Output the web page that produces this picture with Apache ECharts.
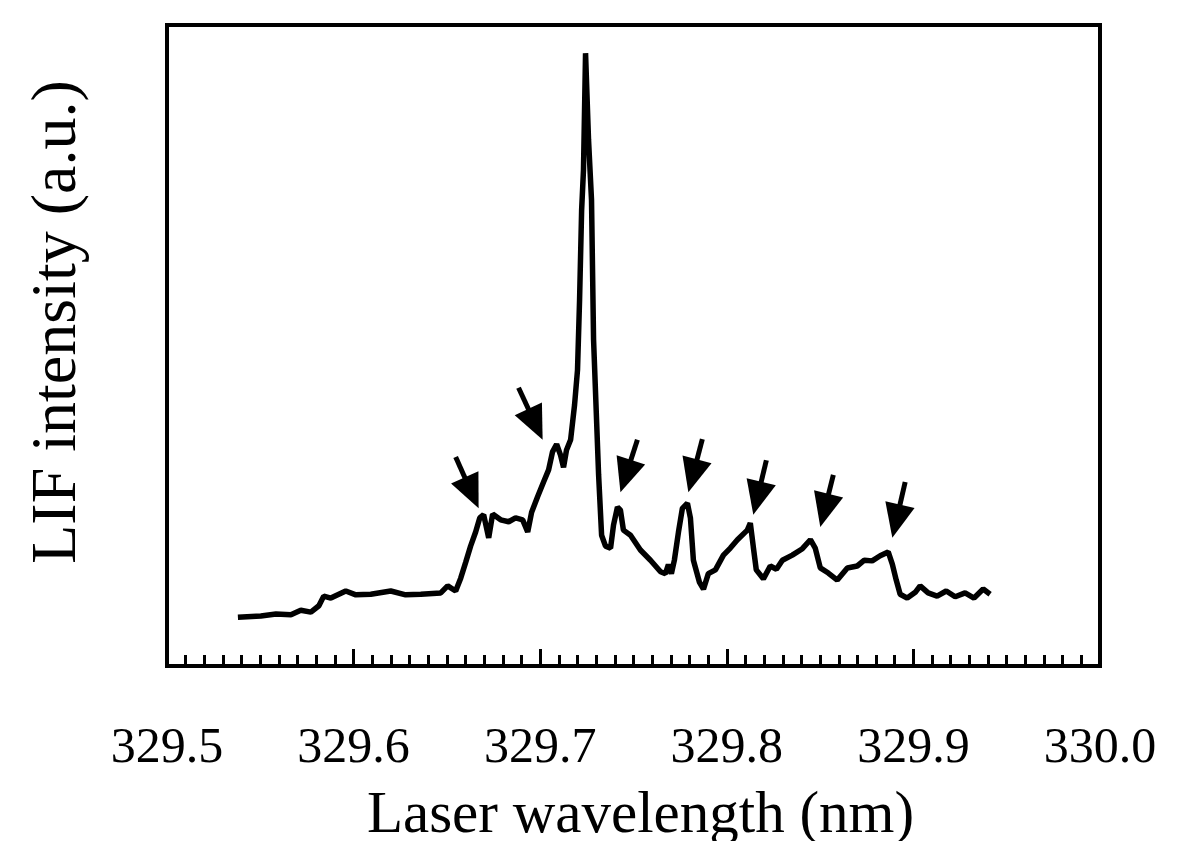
<!DOCTYPE html>
<html lang="en">

<head>
  <meta charset="UTF-8">
  <title>LIF spectrum</title>
  <script src="https://cdn.jsdelivr.net/npm/echarts@6/dist/echarts.min.js"></script>
  <style>
    html, body { margin: 0; padding: 0; background: #fff; }
    #main { width: 1179px; height: 841px; }
  </style>
</head>

<body>
  <div id="main"></div>
  <script>
    // wavelength (nm)
    var wavelength = [
      329.5380, 329.5503, 329.5584, 329.5664, 329.5717, 329.5771, 329.5814, 329.5840, 329.5878, 329.5958,
      329.6012, 329.6092, 329.6199, 329.6279, 329.6360, 329.6467, 329.6504, 329.6547, 329.6574, 329.6601,
      329.6627, 329.6654, 329.6676, 329.6697, 329.6724, 329.6745, 329.6788, 329.6831, 329.6868, 329.6906,
      329.6933, 329.6954, 329.6986, 329.7018, 329.7045, 329.7066, 329.7088, 329.7109, 329.7125, 329.7141,
      329.7163, 329.7184, 329.7200, 329.7211, 329.7222, 329.7232, 329.7243, 329.7259, 329.7275, 329.7286,
      329.7302, 329.7313, 329.7329, 329.7350, 329.7377, 329.7393, 329.7414, 329.7430, 329.7446, 329.7484,
      329.7537, 329.7591, 329.7645, 329.7671, 329.7687, 329.7703, 329.7719, 329.7741, 329.7762, 329.7789,
      329.7805, 329.7821, 329.7853, 329.7875, 329.7901, 329.7939, 329.7982, 329.8019, 329.8057, 329.8110,
      329.8126, 329.8142, 329.8158, 329.8196, 329.8233, 329.8266, 329.8298, 329.8351, 329.8405, 329.8448,
      329.8474, 329.8501, 329.8544, 329.8592, 329.8646, 329.8699, 329.8737, 329.8779, 329.8822, 329.8865,
      329.8887, 329.8908, 329.8929, 329.8967, 329.9010, 329.9036, 329.9079, 329.9127, 329.9176, 329.9224,
      329.9277, 329.9325, 329.9374, 329.9411
    ];
    // LIF intensity (a.u.)
    var intensity = [
      7.6, 7.8, 8.1, 8.0, 8.7, 8.4, 9.4, 10.9, 10.6, 11.7,
      11.1, 11.2, 11.7, 11.1, 11.2, 11.4, 12.5, 11.7, 13.7, 16.2,
      18.7, 20.9, 23.1, 23.6, 20.0, 23.7, 22.8, 22.5, 23.1, 22.8,
      20.9, 24.0, 26.4, 28.7, 30.6, 33.4, 34.6, 32.9, 31.0, 33.7,
      35.3, 40.7, 46.2, 57.1, 71.1, 77.4, 95.6, 82.1, 72.7, 50.9,
      38.4, 29.8, 20.4, 18.7, 18.4, 22.0, 24.8, 24.3, 21.2, 20.4,
      18.1, 16.5, 14.7, 14.4, 15.8, 14.4, 16.5, 20.9, 24.6, 25.4,
      23.1, 16.5, 13.1, 12.0, 14.4, 15.0, 17.3, 18.4, 19.7, 21.2,
      22.3, 18.6, 15.0, 13.6, 15.6, 15.1, 16.5, 17.3, 18.3, 19.7,
      18.4, 15.3, 14.5, 13.4, 15.3, 15.6, 16.5, 16.4, 17.2, 17.8,
      15.9, 13.4, 11.2, 10.6, 11.5, 12.5, 11.4, 10.9, 11.7, 10.8,
      11.4, 10.6, 12.0, 11.2
    ];
    // arrows: tail and tip (wavelength, intensity)
    var arrowTail = [
      [329.6547, 32.6], [329.6884, 43.4], [329.7521, 35.3], [329.7869, 35.4],
      [329.8212, 32.1], [329.8571, 29.8], [329.8956, 28.7]
    ];
    var arrowTip = [
      [329.6670, 24.6], [329.7013, 35.3], [329.7430, 27.1], [329.7794, 27.1],
      [329.8142, 23.6], [329.8501, 21.7], [329.8887, 20.0]
    ];
    var xTicks = [329.5, 329.6, 329.7, 329.8, 329.9, 330.0];

    var points = [];
    for (var i = 0; i < wavelength.length; i++) {
      points.push([wavelength[i], intensity[i]]);
    }
    var arrows = [];
    for (var j = 0; j < arrowTail.length; j++) {
      arrows.push([arrowTail[j][0], arrowTail[j][1], arrowTip[j][0], arrowTip[j][1]]);
    }

    // arrow = shaft + filled triangle head, drawn through the axes
    function renderArrow(params, api) {
      var p0 = api.coord([api.value(0), api.value(1)]);
      var p1 = api.coord([api.value(2), api.value(3)]);
      var dx = p1[0] - p0[0], dy = p1[1] - p0[1];
      var len = Math.sqrt(dx * dx + dy * dy);
      var ux = dx / len, uy = dy / len;
      var headLen = 34, headHalf = 15;
      var bx = p1[0] - ux * headLen, by = p1[1] - uy * headLen;
      return {
        type: 'group',
        children: [{
          type: 'line',
          shape: { x1: p0[0], y1: p0[1], x2: bx + ux * 4, y2: by + uy * 4 },
          style: { stroke: '#000', lineWidth: 5 }
        }, {
          type: 'polygon',
          shape: {
            points: [
              [p1[0], p1[1]],
              [bx - uy * headHalf, by + ux * headHalf],
              [bx + uy * headHalf, by - ux * headHalf]
            ]
          },
          style: { fill: '#000' }
        }]
      };
    }

    var font = '"Liberation Serif", "DejaVu Serif", serif';
    var chart = echarts.init(document.getElementById('main'));
    var option = {
      animation: false,
      grid: {
        left: 167,
        right: 79,
        top: 25,
        bottom: 175,
        outerBoundsMode: 'none',
        containLabel: false,
        show: true,
        borderColor: '#000',
        borderWidth: 4
      },
      xAxis: {
        type: 'value',
        min: xTicks[0],
        max: xTicks[xTicks.length - 1],
        interval: 0.1,
        name: 'Laser wavelength (nm)',
        nameLocation: 'middle',
        nameGap: 121,
        nameTextStyle: { color: '#000', fontFamily: font, fontSize: 59, padding: [0, 0, 0, 14] },
        axisLine: { lineStyle: { color: '#000', width: 4 } },
        axisTick: { inside: true, length: 17, lineStyle: { color: '#000', width: 3 } },
        minorTick: { show: true, splitNumber: 10, length: 11, lineStyle: { color: '#000', width: 3 } },
        splitLine: { show: false },
        axisLabel: {
          margin: 58,
          color: '#000',
          fontFamily: font,
          fontSize: 50,
          formatter: function (v) { return v.toFixed(1); }
        }
      },
      yAxis: {
        type: 'value',
        min: 0,
        max: 100,
        axisLine: { show: true, lineStyle: { color: '#000', width: 4 } },
        axisTick: { show: false },
        axisLabel: { show: false },
        splitLine: { show: false }
      },
      graphic: [{
        type: 'text',
        x: 58,
        y: 322,
        rotation: Math.PI / 2,
        style: {
          text: 'LIF intensity (a.u.)',
          x: 0,
          y: 0,
          align: 'center',
          verticalAlign: 'middle',
          fill: '#000',
          font: '64px ' + font
        }
      }],
      series: [{
        type: 'line',
        data: points,
        symbol: 'none',
        lineStyle: { color: '#000', width: 5.5 }
      }, {
        type: 'custom',
        data: arrows,
        silent: true,
        clip: false,
        renderItem: renderArrow
      }]
    };
    chart.setOption(option);
  </script>
</body>

</html>
